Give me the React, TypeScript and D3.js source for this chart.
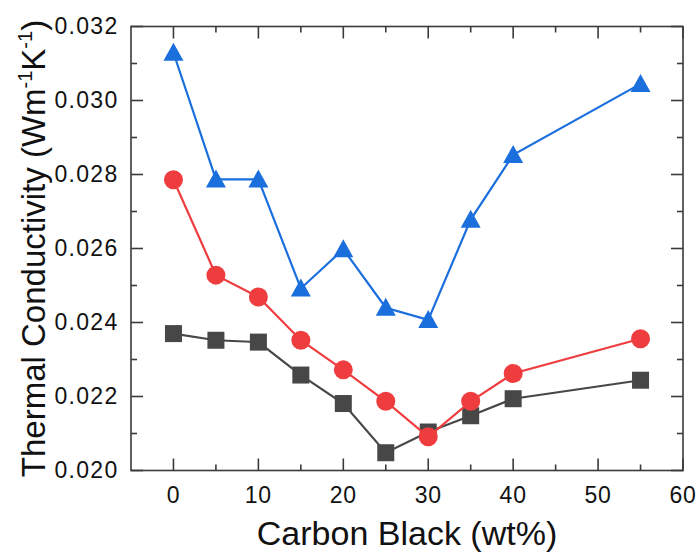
import React from "react";
import * as d3 from "d3";

const xValues = [0, 5, 10, 15, 20, 25, 30, 35, 40, 55];
const squareSeries = [0.0237, 0.02352, 0.02347, 0.02258, 0.02181, 0.02048, 0.02104, 0.02148, 0.02194, 0.02244];
const circleSeries = [0.02786, 0.02528, 0.02469, 0.02352, 0.02272, 0.02187, 0.02091, 0.02187, 0.02262, 0.02356];
const triangleSeries = [0.03129, 0.02787, 0.02787, 0.02492, 0.02598, 0.0244, 0.02407, 0.02678, 0.02853, 0.03045];
const xTicks = [0, 10, 20, 30, 40, 50, 60];
const xMinorTicks = [5, 15, 25, 35, 45, 55];
const yTicks = [0.020, 0.022, 0.024, 0.026, 0.028, 0.030, 0.032];
const yMinorTicks = [0.021, 0.023, 0.025, 0.027, 0.029, 0.031];

const W = 698, H = 557;
const L = 131, R = 683, T = 26.5, B = 470.5;
const axisColor = "#3a3a3a";
const font = "'Liberation Sans', Arial, sans-serif";

export default function App() {
  const x = d3.scaleLinear().domain([-5, 60]).range([L, R]);
  const y = d3.scaleLinear().domain([0.020, 0.032]).range([B, T]);
  const line = d3.line<[number, number]>().x(d => x(d[0])).y(d => y(d[1]));
  const pts = (s: number[]) => xValues.map((v, i) => [v, s[i]] as [number, number]);

  const gray = "#474747", red = "#ef3d3f", blue = "#1b6fdd";
  const triPath = (cx: number, cy: number) => {
    const w = 20, h = 18;
    return `M${cx},${cy - h * 0.55}L${cx + w / 2},${cy + h * 0.45}L${cx - w / 2},${cy + h * 0.45}Z`;
  };

  return (
    <svg width={W} height={H} style={{ position: "absolute", left: 0, top: 0, background: "#fff" }}>
      <rect x={0} y={0} width={W} height={H} fill="#fff" />
      <path d={line(pts(squareSeries)) || ""} fill="none" stroke={gray} strokeWidth={2.2} />
      {pts(squareSeries).map((p, i) => (
        <rect key={"s" + i} x={x(p[0]) - 8.5} y={y(p[1]) - 8.5} width={17} height={17} fill={gray} />
      ))}
      <path d={line(pts(circleSeries)) || ""} fill="none" stroke={red} strokeWidth={2.2} />
      {pts(circleSeries).map((p, i) => (
        <circle key={"c" + i} cx={x(p[0])} cy={y(p[1])} r={9.5} fill={red} />
      ))}
      <path d={line(pts(triangleSeries)) || ""} fill="none" stroke={blue} strokeWidth={2.2} />
      {pts(triangleSeries).map((p, i) => (
        <path key={"t" + i} d={triPath(x(p[0]), y(p[1]))} fill={blue} />
      ))}

      <rect x={L} y={T} width={R - L} height={B - T} fill="none" stroke={axisColor} strokeWidth={1.6} />
      {xTicks.map(t => (
        <g key={"xt" + t}>
          <line x1={x(t)} x2={x(t)} y1={B} y2={B - 12} stroke={axisColor} strokeWidth={1.6} />
          <line x1={x(t)} x2={x(t)} y1={T} y2={T + 12} stroke={axisColor} strokeWidth={1.6} />
          <text x={x(t)} y={503} textAnchor="middle" fontFamily={font} fontSize={23} letterSpacing={0.8} fill="#111">{t}</text>
        </g>
      ))}
      {xMinorTicks.map(t => (
        <g key={"xm" + t}>
          <line x1={x(t)} x2={x(t)} y1={B} y2={B - 6} stroke={axisColor} strokeWidth={1.6} />
          <line x1={x(t)} x2={x(t)} y1={T} y2={T + 6} stroke={axisColor} strokeWidth={1.6} />
        </g>
      ))}
      {yTicks.map(t => (
        <g key={"yt" + t}>
          <line x1={L} x2={L + 12} y1={y(t)} y2={y(t)} stroke={axisColor} strokeWidth={1.6} />
          <line x1={R} x2={R - 12} y1={y(t)} y2={y(t)} stroke={axisColor} strokeWidth={1.6} />
          <text x={118.5} y={y(t) + 7.8} textAnchor="end" fontFamily={font} fontSize={23} letterSpacing={1.3} fill="#111">{d3.format(".3f")(t)}</text>
        </g>
      ))}
      {yMinorTicks.map(t => (
        <g key={"ym" + t}>
          <line x1={L} x2={L + 6} y1={y(t)} y2={y(t)} stroke={axisColor} strokeWidth={1.6} />
          <line x1={R} x2={R - 6} y1={y(t)} y2={y(t)} stroke={axisColor} strokeWidth={1.6} />
        </g>
      ))}
      <text x={(L + R) / 2} y={545} textAnchor="middle" fontFamily={font} fontSize={34} fill="#111">Carbon Black (wt%)</text>
      <text transform={`translate(45,${(T + B) / 2}) rotate(-90)`} textAnchor="middle" fontFamily={font} fontSize={33} fill="#111">
        Thermal Conductivity (Wm<tspan fontSize={20} dy={-13}>-1</tspan><tspan dy={13}>K</tspan><tspan fontSize={20} dy={-13}>-1</tspan><tspan dy={13}>)</tspan>
      </text>
    </svg>
  );
}
